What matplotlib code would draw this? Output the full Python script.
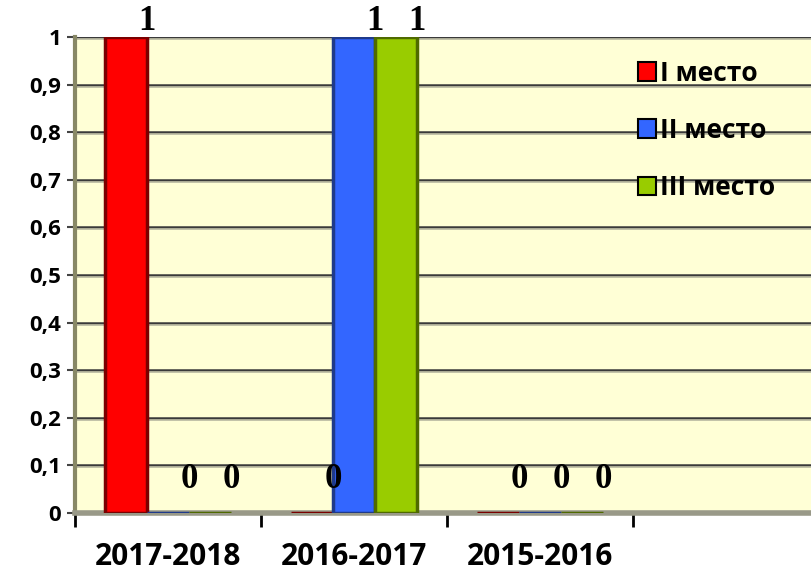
import matplotlib
matplotlib.use("Agg")
import matplotlib.pyplot as plt
import numpy as np
from matplotlib.patches import Patch

categories = ["2017-2018", "2016-2017", "2015-2016"]
series_names = ["I место", "II место", "III место"]
place1 = [1, 0, 0]
place2 = [0, 1, 0]
place3 = [0, 1, 0]
y_ticks = [0, 0.1, 0.2, 0.3, 0.4, 0.5, 0.6, 0.7, 0.8, 0.9, 1]
y_tick_labels = ["0", "0,1", "0,2", "0,3", "0,4", "0,5", "0,6", "0,7", "0,8", "0,9", "1"]

colors = ["#FF0000", "#3366FF", "#99CC00"]
edges = ["#7A0000", "#1F3A8A", "#4F6A00"]

W, H = 812, 576
fig = plt.figure(figsize=(W / 100, H / 100), dpi=100)
fig.patch.set_facecolor("white")
ax = fig.add_axes([75 / W, (H - 513) / H, 744 / W, (513 - 37) / H])
ax.set_facecolor("#FFFFD6")

x = np.arange(len(categories))
bw = 42 / 186
values = [place1, place2, place3]
for i, (vals, c, ec) in enumerate(zip(values, colors, edges)):
    xs = x + (i - 1) * bw
    ax.bar(xs, vals, width=bw, color=c, edgecolor=ec, linewidth=2.5, zorder=3)
    for xi, v in zip(xs, vals):
        off = 16 if v else 33
        ax.annotate(str(v), (xi + bw * 0.5, v), xytext=(0, off), textcoords="offset pixels",
                    ha="center", va="center", fontsize=25, fontweight="bold",
                    family="Liberation Serif", annotation_clip=False, zorder=5)

ax.set_xlim(-0.5, 3.5)
ax.set_ylim(0, 1)
ax.set_yticks(y_ticks)
ax.set_yticklabels(y_tick_labels, fontsize=16, fontweight="bold", family="Open Sans")
ax.set_xticks([-0.5, 0.5, 1.5, 2.5])
ax.set_xticklabels([])
for xi, lab in zip(x, categories):
    ax.annotate(lab, (xi, 0), xytext=(0, -44), textcoords="offset pixels",
                ha="center", va="center", fontsize=21.5, fontweight="bold",
                family="Open Sans", annotation_clip=False)
ax.tick_params(axis="x", length=10, width=2, direction="out", color="black")
ax.tick_params(axis="y", length=6, width=1.5, direction="out", color="#444444", pad=4)

ax.grid(axis="y", color="#3A3A3A", linewidth=1.8, zorder=1)
for yt in y_ticks:
    ax.axhline(yt - 0.004, color="#B8B8A0", linewidth=1.2, zorder=1)
ax.set_axisbelow(True)
for s in ["top", "right"]:
    ax.spines[s].set_visible(False)
ax.spines["left"].set_color("#888866")
ax.spines["left"].set_linewidth(3)
ax.spines["bottom"].set_color("#999988")
ax.spines["bottom"].set_linewidth(4)

handles = [Patch(facecolor=c, edgecolor="black", linewidth=1.5) for c in colors]
leg = ax.legend(handles, series_names, loc="upper left",
                bbox_to_anchor=(627 / W, 1 - 49 / H), bbox_transform=fig.transFigure,
                frameon=False, prop={"family": "Open Sans", "weight": "bold", "size": 19},
                handlelength=0.7, handleheight=0.7, handletextpad=0.15, labelspacing=1.15,
                borderaxespad=0)

fig.savefig("out.png", dpi=100)
